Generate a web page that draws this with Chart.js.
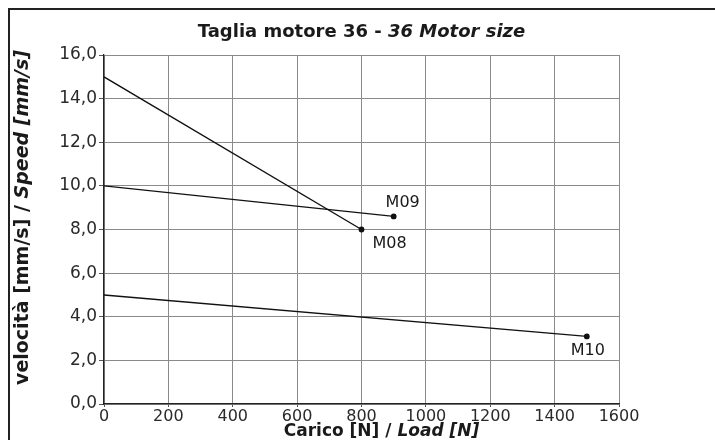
<!DOCTYPE html>
<html><head><meta charset="utf-8">
<script src="https://cdn.jsdelivr.net/npm/chart.js@4"></script>
<style>
html,body{margin:0;padding:0;background:#fff;}
#wrap{position:relative;width:715px;height:440px;}
#frame{position:absolute;left:8px;top:8px;width:707px;height:432px;border-top:2px solid #222;border-left:2px solid #222;box-sizing:border-box;pointer-events:none;}
canvas{position:absolute;left:0;top:0;}
</style></head>
<body><div id="wrap"><canvas id="c" width="715" height="440"></canvas><div id="frame"></div></div>
<script>
const seriesNames = ['M08', 'M09', 'M10'];
const m08Load = [0, 800];
const m08Speed = [15.0, 8.0];
const m09Load = [0, 900];
const m09Speed = [10.0, 8.6];
const m10Load = [0, 1500];
const m10Speed = [5.0, 3.1];
const xTicks = [0, 200, 400, 600, 800, 1000, 1200, 1400, 1600];
const yTicks = [0, 2, 4, 6, 8, 10, 12, 14, 16];
const titleParts = ['Taglia motore 36 - ', '36 Motor size'];
const xTitleParts = ['Carico [N] / ', 'Load [N]'];
const yTitleParts = ['velocità [mm/s] / ', 'Speed [mm/s]'];

const FONT = '"DejaVu Sans", sans-serif';
function pts(xs, ys){ return xs.map((x,i)=>({x:x, y:ys[i]})); }
function ds(name, xs, ys){
  return {label:name, data:pts(xs,ys), showLine:true, borderColor:'#111', backgroundColor:'#111',
    borderWidth:1.4, pointRadius:xs.map((_,i)=> i===xs.length-1 ? 2.2 : 0), pointHoverRadius:0, tension:0};
}
const labelOffsets = {M08:{dx:28,dy:14}, M09:{dx:9,dy:-14}, M10:{dx:1,dy:14}};

function drawMixed(ctx, parts, fonts, cx, cy){
  let w = 0; const ws = [];
  parts.forEach((p,i)=>{ ctx.font = fonts[i]; const m = ctx.measureText(p).width; ws.push(m); w += m; });
  let x = cx - w/2;
  ctx.textAlign = 'left'; ctx.textBaseline = 'middle';
  parts.forEach((p,i)=>{ ctx.font = fonts[i]; ctx.fillText(p, x, cy); x += ws[i]; });
}

const textPlugin = {
  id:'texts',
  afterDraw(chart){
    const ctx = chart.ctx, a = chart.chartArea;
    ctx.save();
    ctx.fillStyle = '#1a1a1a';
    const cx = (a.left + a.right)/2;
    drawMixed(ctx, titleParts, ['bold 18px '+FONT, 'italic bold 18px '+FONT], cx, 32);
    drawMixed(ctx, xTitleParts, ['bold 17px '+FONT, 'italic bold 17px '+FONT], cx + 20, 432);
    ctx.translate(23, (a.top + a.bottom)/2 - 12);
    ctx.rotate(-Math.PI/2);
    drawMixed(ctx, yTitleParts, ['bold 19px '+FONT, 'italic bold 19px '+FONT], 0, 0);
    ctx.restore();
    ctx.save();
    ctx.fillStyle = '#1a1a1a';
    ctx.font = '16px '+FONT;
    ctx.textBaseline = 'middle';
    ctx.textAlign = 'center';
    chart.data.datasets.forEach((d,i)=>{
      const meta = chart.getDatasetMeta(i);
      const el = meta.data[meta.data.length-1];
      const o = labelOffsets[d.label];
      ctx.fillText(d.label, el.x + o.dx, el.y + o.dy);
    });
    ctx.restore();
  }
};

new Chart(document.getElementById('c'), {
  type:'scatter',
  data:{datasets:[ds(seriesNames[0], m08Load, m08Speed), ds(seriesNames[1], m09Load, m09Speed), ds(seriesNames[2], m10Load, m10Speed)]},
  options:{
    responsive:false, animation:false, devicePixelRatio:1,
    layout:{padding:{left:0, right:96, top:55, bottom:0}},
    plugins:{legend:{display:false}, tooltip:{enabled:false}, title:{display:false}},
    scales:{
      x:{type:'linear', min:0, max:1600,
        afterBuildTicks(s){ s.ticks = xTicks.map(v=>({value:v})); },
        afterFit(s){ s.height = 36; },
        ticks:{color:'#2a2a2a', font:{family:FONT, size:16}, padding:0, callback:v=>String(v), maxRotation:0},
        grid:{color:'#8a8a8a', lineWidth:1, tickLength:3, tickColor:'#555'},
        border:{color:'#222', width:1.3}
      },
      y:{type:'linear', min:0, max:16,
        afterBuildTicks(s){ s.ticks = yTicks.map(v=>({value:v})); },
        afterFit(s){ s.width = 104; },
        ticks:{color:'#2a2a2a', font:{family:FONT, size:17}, padding:2, callback:v=>v.toFixed(1).replace('.',',')},
        grid:{color:'#8a8a8a', lineWidth:1, tickLength:5, tickColor:'#555'},
        border:{color:'#222', width:1.3}
      }
    }
  },
  plugins:[textPlugin]
});
</script></body></html>
